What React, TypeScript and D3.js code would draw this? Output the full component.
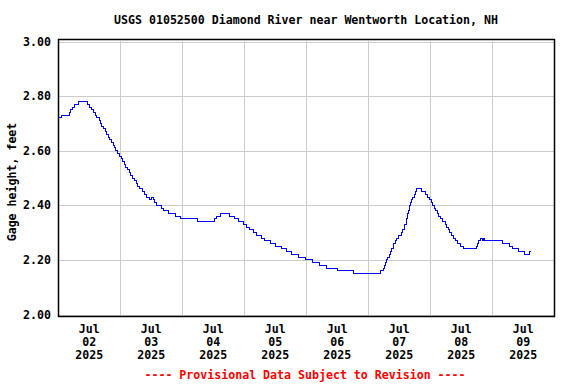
import React from 'react';
import * as d3 from 'd3';

// hours since Jul 02 2025 00:00, and the gage height that starts at that time
const hours = [
  0, 1.2, 4.3, 4.9, 5.6, 6.4, 7.9, 11.4, 12.2, 12.9, 13.7, 14.3, 14.9, 15.9, 16.5, 16.9,
  17.5, 18.1, 18.7, 19.4, 20.0, 20.4, 21.2, 21.8, 22.3, 23.0, 23.5, 24.3, 24.8, 25.5, 26.2,
  26.9, 27.6, 28.1, 28.7, 29.4, 30.1, 30.7, 31.6, 32.6, 33.3, 34.3, 35.3, 35.9, 36.7, 37.4,
  38.2, 40.1, 40.9, 42.8, 45.2, 47.4, 53.8, 60.3, 61.3, 62.9, 66.3, 68.3, 69.8, 71.6, 72.9,
  74.2, 75.4, 76.9, 78.5, 80.0, 82.0, 84.2, 86.5, 88.4, 90.3, 92.9, 95.5, 98.3, 101.3, 103.9,
  108.2, 114.2, 124.9, 125.7, 126.3, 126.7, 127.1, 127.4, 128.2, 128.6, 129.0, 129.6, 129.9,
  130.5, 131.1, 131.7, 132.7, 133.4, 134.0, 134.2, 134.6, 134.9, 135.1, 135.3, 135.5, 135.8,
  136.0, 136.3, 136.7, 137.2, 137.7, 138.1, 138.7, 140.7, 142.2, 142.9, 143.5, 144.3, 145.0,
  145.8, 146.2, 146.8, 147.3, 148.1, 148.9, 149.7, 150.3, 151.0, 151.6, 152.3, 153.0, 153.8,
  154.5, 155.5, 156.8, 161.7, 162.1, 162.5, 163.3, 164.1, 164.7, 165.0, 172.0, 174.6, 176.0,
  178.0, 180.4, 182.5, 183.0,
];
const gage = [
  2.72, 2.73, 2.74, 2.75, 2.76, 2.77, 2.78, 2.77, 2.76, 2.75, 2.74, 2.73, 2.72, 2.71, 2.70, 2.69,
  2.68, 2.67, 2.66, 2.65, 2.64, 2.63, 2.62, 2.61, 2.60, 2.59, 2.58, 2.57, 2.56, 2.55, 2.54,
  2.53, 2.52, 2.51, 2.50, 2.49, 2.48, 2.47, 2.46, 2.45, 2.44, 2.43, 2.42, 2.43, 2.42, 2.41,
  2.40, 2.39, 2.38, 2.37, 2.36, 2.35, 2.34, 2.35, 2.36, 2.37, 2.36, 2.35, 2.34, 2.33, 2.32,
  2.31, 2.30, 2.29, 2.28, 2.27, 2.26, 2.25, 2.24, 2.23, 2.22, 2.21, 2.20, 2.19, 2.18, 2.17,
  2.16, 2.15, 2.16, 2.17, 2.18, 2.19, 2.20, 2.21, 2.22, 2.23, 2.24, 2.25, 2.26,
  2.27, 2.28, 2.29, 2.30, 2.31, 2.32, 2.33, 2.34, 2.35, 2.36, 2.37, 2.38, 2.39,
  2.40, 2.41, 2.42, 2.43, 2.44, 2.45, 2.46, 2.45, 2.44, 2.43, 2.42, 2.41, 2.40,
  2.39, 2.38, 2.37, 2.36, 2.35, 2.34, 2.33, 2.32, 2.31, 2.30, 2.29, 2.28, 2.27,
  2.26, 2.25, 2.24, 2.25, 2.26, 2.27, 2.28, 2.27, 2.28, 2.27, 2.26, 2.25, 2.24,
  2.23, 2.22, 2.23, 2.23,
];

const dayLabels = ['02', '03', '04', '05', '06', '07', '08', '09'];
const yTicks = [2.0, 2.2, 2.4, 2.6, 2.8, 3.0];

const title = 'USGS 01052500 Diamond River near Wentworth Location, NH';
const yTitle = 'Gage height, feet';
const footer = '---- Provisional Data Subject to Revision ----';

const W = 576;
const H = 384;
const font = '"DejaVu Sans Mono", monospace';

export default function App() {
  const x = d3.scaleLinear().domain([0, 192]).range([58.3, 554.3]);
  const y = d3.scaleLinear().domain([2, 3]).range([314.5, 41.5]);

  const points = hours.map((h, i) => [h, gage[i]] as [number, number]);
  const line = d3
    .line<[number, number]>()
    .x(d => x(d[0]))
    .y(d => y(d[1]))
    .curve(d3.curveStepAfter);

  const midnights = d3.range(1, 8).map(d => d * 24);

  return (
    <svg
      width={W}
      height={H}
      style={{ position: 'absolute', left: 0, top: 0, background: '#fff' }}
      fontFamily={font}
      fontWeight="bold"
    >
      <rect x={0} y={0} width={W} height={H} fill="#fff" />
      <text x={306} y={24} textAnchor="middle" fontSize={11.6} fill="#000">
        {title}
      </text>

      {/* grid */}
      {midnights.map(h => (
        <line
          key={'v' + h}
          x1={Math.round(x(h)) + 0.5}
          x2={Math.round(x(h)) + 0.5}
          y1={41}
          y2={315}
          stroke="#cccccc"
          strokeWidth={1}
        />
      ))}
      {yTicks.map(t => (
        <line
          key={'h' + t}
          x1={59}
          x2={554}
          y1={Math.round(y(t)) + 0.5}
          y2={Math.round(y(t)) + 0.5}
          stroke="#cccccc"
          strokeWidth={1}
        />
      ))}

      <path
        d={line(points) || ''}
        fill="none"
        stroke="#0000ff"
        strokeWidth={1}
        shapeRendering="crispEdges"
      />

      <rect x={58.5} y={39.5} width={496} height={277} fill="none" stroke="#000" strokeWidth={1.5} />

      {/* y axis labels */}
      {yTicks.map(t => (
        <text
          key={'yl' + t}
          x={51}
          y={y(t) + 4}
          textAnchor="end"
          fontSize={11.6}
          fill="#000"
        >
          {t.toFixed(2)}
        </text>
      ))}
      <text
        transform={`translate(16, 182) rotate(-90)`}
        textAnchor="middle"
        fontSize={11.6}
        fill="#000"
      >
        {yTitle}
      </text>

      {/* x axis labels */}
      {dayLabels.map((d, i) => {
        const cx = x(i * 24 + 12);
        return (
          <g key={'xl' + d} fontSize={11.6} fill="#000" textAnchor="middle">
            <text x={cx} y={333}>Jul</text>
            <text x={cx} y={346}>{d}</text>
            <text x={cx} y={359}>2025</text>
          </g>
        );
      })}

      <text x={305} y={379} textAnchor="middle" fontSize={11.6} fill="#ff0000">
        {footer}
      </text>
    </svg>
  );
}
